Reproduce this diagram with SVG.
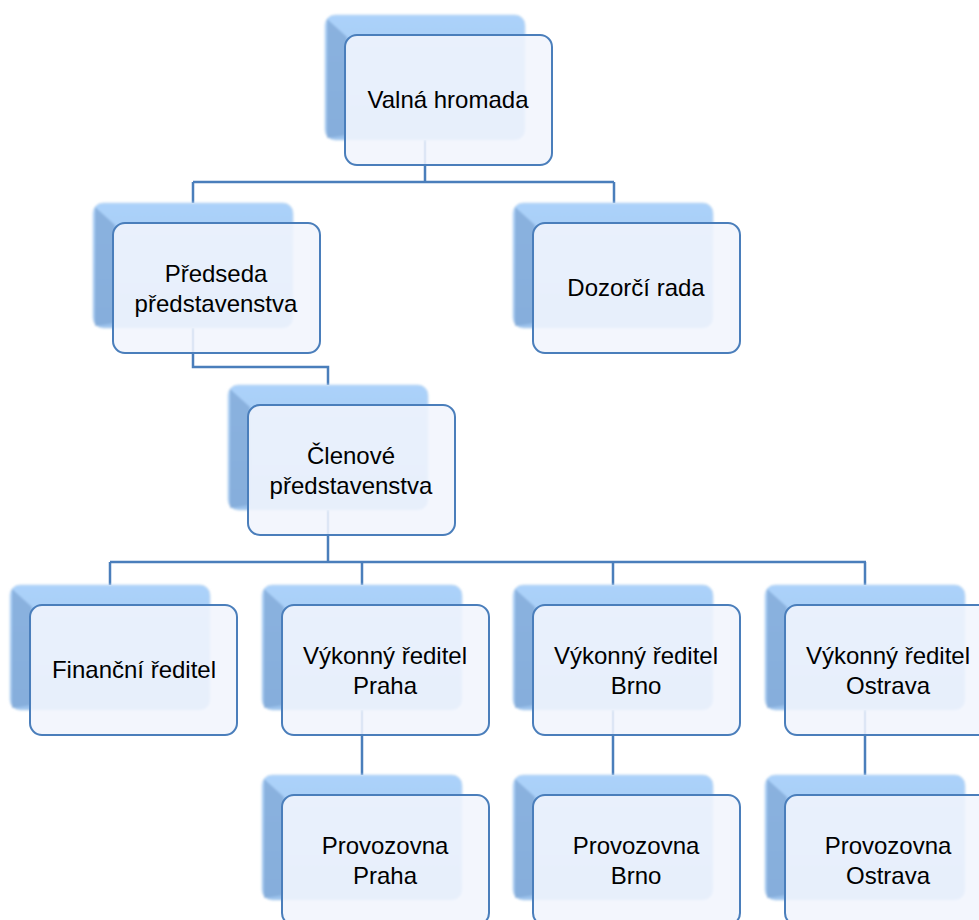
<svg xmlns="http://www.w3.org/2000/svg" width="979" height="920" viewBox="0 0 979 920">
<defs>
<linearGradient id="backGrad" x1="0" y1="0" x2="0" y2="1">
<stop offset="0" stop-color="#acd2fa"/>
<stop offset="1" stop-color="#9bc2ec"/>
</linearGradient>
<filter id="soft" x="-5%" y="-5%" width="110%" height="110%">
<feGaussianBlur stdDeviation="1.2"/>
</filter>
<g id="card">
<g filter="url(#soft)">
<rect class="back" x="0" y="0" width="200" height="125" rx="10"/>
<path class="bevel" d="M2,4 L22,22 L22,120 L2,123 Z"/>
</g>
</g>
</defs>
<style>
.back{fill:url(#backGrad);stroke:#c6dcf2;stroke-width:1}
.bevel{fill:#7fa7d6;opacity:0.75}
.front{fill:#f1f5fd;fill-opacity:0.88;stroke:#4a7ebb;stroke-width:2}
.conn{fill:none;stroke:#4a7ebb;stroke-width:2.5}
.lbl{font-family:"Liberation Sans",Arial,sans-serif;font-size:24px;fill:#000;text-anchor:middle}
</style>
<rect width="979" height="920" fill="#ffffff"/>

<g id="connectors">
<path class="conn" d="M425,140 V182 M193,182 H614 M193,182 V203 M614,182 V203"/>
<path class="conn" d="M193,328 V367 H328 V385"/>
<path class="conn" d="M328,510 V562 M110,562 H866 M110,562 V585 M362,562 V585 M613,562 V585 M865,562 V585"/>
<path class="conn" d="M362,710 V775 M613,710 V775 M865,710 V775"/>
</g>

<g id="n-valna">
<use href="#card" x="325" y="15"/>
<rect class="front" x="345" y="35" width="207" height="130" rx="12"/>
<text class="lbl" x="448" y="108">Valná hromada</text>
</g>

<g id="n-predseda">
<use href="#card" x="93" y="203"/>
<rect class="front" x="113" y="223" width="207" height="130" rx="12"/>
<text class="lbl" x="216" y="282">Předseda</text>
<text class="lbl" x="216" y="312">představenstva</text>
</g>

<g id="n-dozorci">
<use href="#card" x="513" y="203"/>
<rect class="front" x="533" y="223" width="207" height="130" rx="12"/>
<text class="lbl" x="636" y="296">Dozorčí rada</text>
</g>

<g id="n-clenove">
<use href="#card" x="228" y="385"/>
<rect class="front" x="248" y="405" width="207" height="130" rx="12"/>
<text class="lbl" x="351" y="464">Členové</text>
<text class="lbl" x="351" y="494">představenstva</text>
</g>

<g id="n-financni">
<use href="#card" x="10" y="585"/>
<rect class="front" x="30" y="605" width="207" height="130" rx="12"/>
<text class="lbl" x="134" y="678">Finanční ředitel</text>
</g>

<g id="n-vyk-praha">
<use href="#card" x="262" y="585"/>
<rect class="front" x="282" y="605" width="207" height="130" rx="12"/>
<text class="lbl" x="385" y="664">Výkonný ředitel</text>
<text class="lbl" x="385" y="694">Praha</text>
</g>

<g id="n-vyk-brno">
<use href="#card" x="513" y="585"/>
<rect class="front" x="533" y="605" width="207" height="130" rx="12"/>
<text class="lbl" x="636" y="664">Výkonný ředitel</text>
<text class="lbl" x="636" y="694">Brno</text>
</g>

<g id="n-vyk-ostrava">
<use href="#card" x="765" y="585"/>
<rect class="front" x="785" y="605" width="207" height="130" rx="12"/>
<text class="lbl" x="888" y="664">Výkonný ředitel</text>
<text class="lbl" x="888" y="694">Ostrava</text>
</g>

<g id="n-prov-praha">
<use href="#card" x="262" y="775"/>
<rect class="front" x="282" y="795" width="207" height="130" rx="12"/>
<text class="lbl" x="385" y="854">Provozovna</text>
<text class="lbl" x="385" y="884">Praha</text>
</g>

<g id="n-prov-brno">
<use href="#card" x="513" y="775"/>
<rect class="front" x="533" y="795" width="207" height="130" rx="12"/>
<text class="lbl" x="636" y="854">Provozovna</text>
<text class="lbl" x="636" y="884">Brno</text>
</g>

<g id="n-prov-ostrava">
<use href="#card" x="765" y="775"/>
<rect class="front" x="785" y="795" width="207" height="130" rx="12"/>
<text class="lbl" x="888" y="854">Provozovna</text>
<text class="lbl" x="888" y="884">Ostrava</text>
</g>
</svg>
